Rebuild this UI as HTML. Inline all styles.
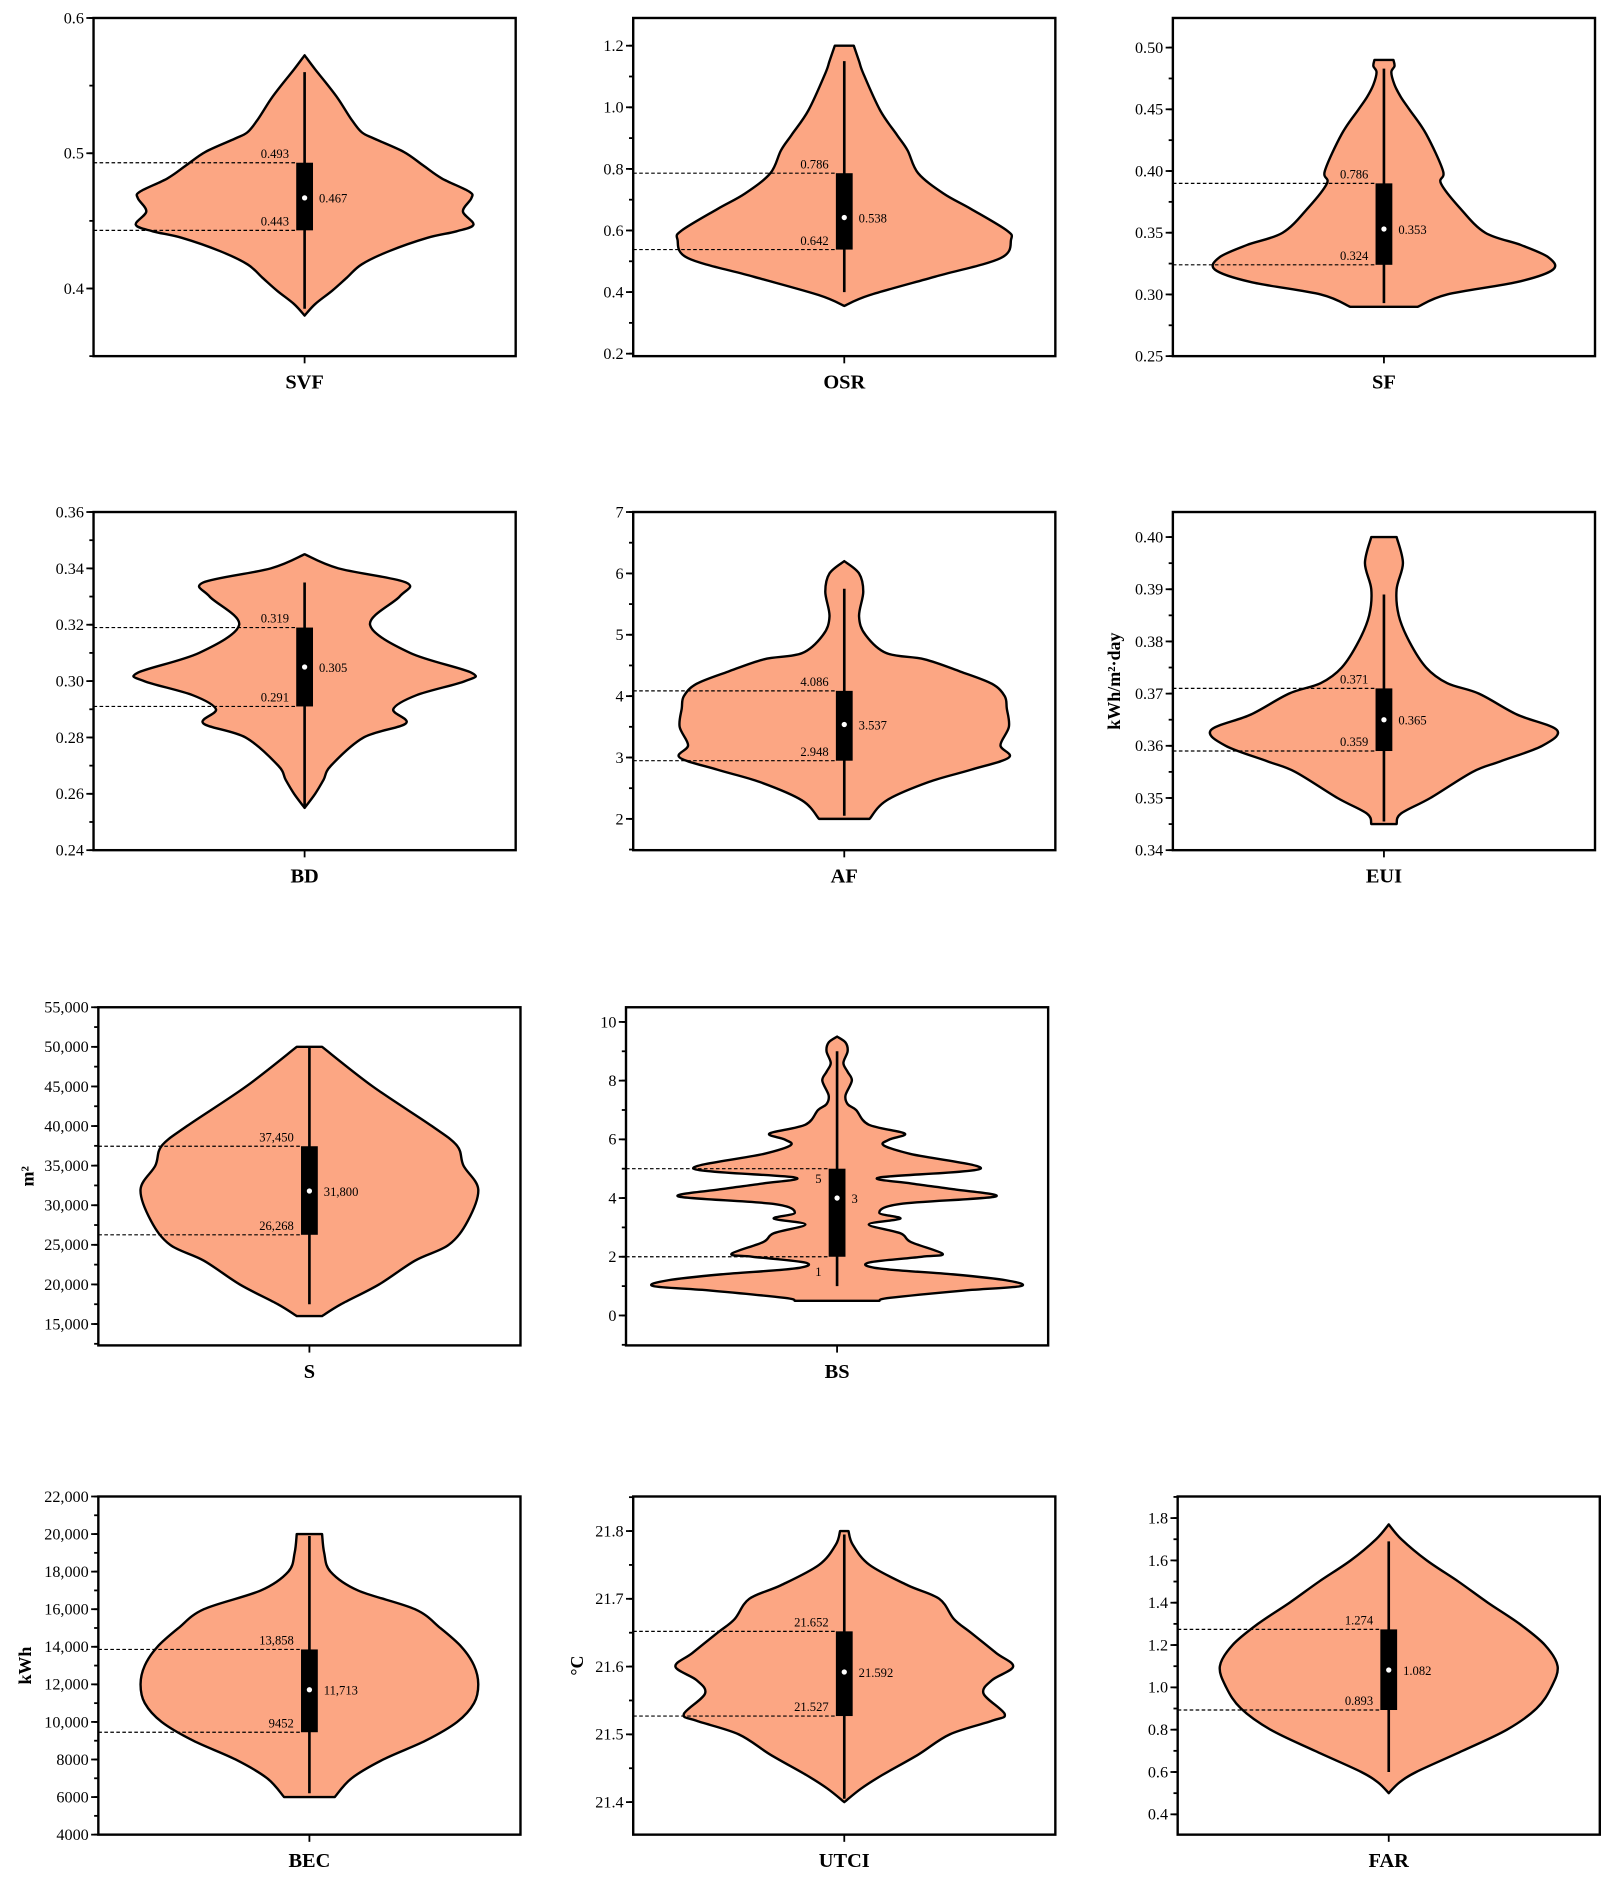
<!DOCTYPE html>
<html><head><meta charset="utf-8"><style>
html,body{margin:0;padding:0;background:#fff}
svg{display:block}
text{font-family:"Liberation Serif",serif;fill:#000}
</style></head><body>
<svg id="chart" xmlns="http://www.w3.org/2000/svg" width="1607" height="1891" viewBox="0 0 1340 1577" preserveAspectRatio="none"></svg>
<script>
// ---- data ----
const categories = ["SVF","OSR","SF","BD","AF","EUI","S","BS","BEC","UTCI","FAR"];
const yAxisTitles = ["","","","","","kWh/m²·day","m²","","kWh","°C",""];
const axisMin = [0.35,0.192,0.25,0.24,1.49,0.34,12300,-1.02,4000,21.352,0.304];
const axisMax = [0.6,1.29,0.524,0.36,7,0.4048,55000,10.5,22000,21.851,1.902];
const majorTicks = [
 [0.4,0.5,0.6],[0.2,0.4,0.6,0.8,1.0,1.2],[0.25,0.30,0.35,0.40,0.45,0.50],
 [0.24,0.26,0.28,0.30,0.32,0.34,0.36],[2,3,4,5,6,7],[0.34,0.35,0.36,0.37,0.38,0.39,0.40],
 [15000,20000,25000,30000,35000,40000,45000,50000,55000],[0,2,4,6,8,10],
 [4000,6000,8000,10000,12000,14000,16000,18000,20000,22000],[21.4,21.5,21.6,21.7,21.8],
 [0.4,0.6,0.8,1.0,1.2,1.4,1.6,1.8]];
const tickLabels = [
 ["0.4","0.5","0.6"],["0.2","0.4","0.6","0.8","1.0","1.2"],["0.25","0.30","0.35","0.40","0.45","0.50"],
 ["0.24","0.26","0.28","0.30","0.32","0.34","0.36"],["2","3","4","5","6","7"],["0.34","0.35","0.36","0.37","0.38","0.39","0.40"],
 ["15,000","20,000","25,000","30,000","35,000","40,000","45,000","50,000","55,000"],["0","2","4","6","8","10"],
 ["4000","6000","8000","10,000","12,000","14,000","16,000","18,000","20,000","22,000"],["21.4","21.5","21.6","21.7","21.8"],
 ["0.4","0.6","0.8","1.0","1.2","1.4","1.6","1.8"]];
const minorStep = [0.05,0.1,0.025,0.01,0.5,0.005,2500,1,1000,0.05,0.1];
// violin outlines: levels (value) and relative half-widths
const svfLevels = [0.5724,0.562,0.5523,0.540,0.5254,0.5156,0.5108,0.501,0.4912,0.4814,0.4716,0.4667,0.457,0.4472,0.4423,0.4374,0.4276,0.4178,0.408,0.3983,0.3885,0.38];
const svfWidths = [0,0.05,0.10,0.16,0.22,0.27,0.33,0.47,0.56,0.65,0.78,0.79,0.75,0.80,0.72,0.58,0.40,0.27,0.2,0.13,0.05,0];
const osrLevels = [1.2,1.15,1.11,0.99,0.91,0.86,0.786,0.72,0.67,0.6,0.57,0.51,0.45,0.39,0.355];
const osrWidths = [0.045,0.07,0.09,0.17,0.25,0.30,0.35,0.47,0.6,0.77,0.79,0.74,0.43,0.12,0];
const sfLevels = [0.49,0.485,0.48,0.47,0.46,0.45,0.43,0.40,0.39,0.37,0.35,0.34,0.33,0.32,0.31,0.30,0.29];
const sfWidths = [0.045,0.05,0.035,0.05,0.08,0.12,0.2,0.28,0.27,0.36,0.48,0.65,0.78,0.8,0.63,0.3,0.16];
const bdLevels = [0.345,0.34,0.335,0.33,0.32,0.31,0.303,0.30,0.295,0.29,0.285,0.28,0.27,0.265,0.26,0.255];
const bdWidths = [0,0.16,0.48,0.45,0.31,0.5,0.79,0.76,0.53,0.42,0.48,0.28,0.125,0.09,0.05,0];
const afLevels = [6.2,6.0,5.7,5.3,5.0,4.7,4.6,4.4,4.2,4.0,3.8,3.5,3.2,3.0,2.8,2.6,2.3,2.0];
const afWidths = [0,0.07,0.09,0.07,0.1,0.2,0.38,0.55,0.7,0.76,0.77,0.78,0.74,0.78,0.6,0.4,0.2,0.12];
const euiLevels = [0.40,0.395,0.39,0.385,0.38,0.375,0.372,0.37,0.366,0.363,0.36,0.357,0.355,0.35,0.347,0.345];
const euiWidths = [0.06,0.09,0.06,0.07,0.12,0.2,0.3,0.45,0.63,0.82,0.75,0.55,0.42,0.22,0.08,0.06];
const sLevels = [50000,45000,40000,37500,35000,32000,28000,25000,23000,20000,17500,16000];
const sWidths = [0.06,0.3,0.58,0.7,0.73,0.8,0.75,0.66,0.5,0.33,0.15,0.06];
const bsLevels = [9.5,9.3,9.0,8.6,8.3,8.0,7.5,7.2,7.0,6.5,6.2,6.0,5.8,5.5,5.0,4.7,4.5,4.3,4.05,3.8,3.5,3.3,3.1,2.8,2.5,2.1,2.0,1.8,1.6,1.4,1.2,1.0,0.85,0.6,0.5];
const bsWidths = [0,0.04,0.05,0.03,0.05,0.07,0.04,0.05,0.09,0.15,0.32,0.25,0.22,0.35,0.68,0.2,0.35,0.55,0.75,0.3,0.2,0.3,0.15,0.3,0.35,0.5,0.4,0.15,0.2,0.55,0.8,0.87,0.6,0.25,0.2];
const becLevels = [20000,19000,18000,17000,16000,15000,14000,13000,12000,11000,10000,9000,8000,7000,6000];
const becWidths = [0.06,0.07,0.1,0.23,0.5,0.62,0.72,0.78,0.8,0.78,0.7,0.55,0.35,0.2,0.12];
const utciLevels = [21.8,21.78,21.75,21.72,21.7,21.67,21.65,21.62,21.6,21.58,21.56,21.53,21.52,21.5,21.47,21.44,21.42,21.40];
const utciWidths = [0.02,0.04,0.12,0.3,0.45,0.52,0.6,0.72,0.8,0.7,0.66,0.76,0.7,0.5,0.35,0.18,0.08,0];
const farLevels = [1.77,1.7,1.6,1.5,1.4,1.3,1.2,1.1,1.0,0.9,0.8,0.7,0.6,0.55,0.5];
const farWidths = [0,0.06,0.18,0.33,0.47,0.62,0.74,0.8,0.77,0.7,0.56,0.35,0.13,0.05,0];
// box stats: [whisker low, q1, median, q3, whisker high]
const boxStats = [
 [0.385,0.443,0.467,0.493,0.56],[0.40,0.538,0.642,0.786,1.15],[0.293,0.324,0.353,0.390,0.483],
 [0.255,0.291,0.305,0.319,0.335],[2.05,2.948,3.537,4.086,5.75],[0.3455,0.359,0.365,0.371,0.389],
 [17500,26268,31800,37450,50000],[1,2,4,5,9],[6200,9452,11713,13858,19900],
 [21.405,21.527,21.592,21.652,21.795],[0.6,0.893,1.082,1.274,1.69]];
// printed labels: [above q3 line, above q1 line, right of median]
const statLabels = [
 ["0.493","0.443","0.467"],["0.786","0.642","0.538"],["0.786","0.324","0.353"],
 ["0.319","0.291","0.305"],["4.086","2.948","3.537"],["0.371","0.359","0.365"],
 ["37,450","26,268","31,800"],["5","1","3"],["13,858","9452","11,713"],
 ["21.652","21.527","21.592"],["1.274","0.893","1.082"]];
const violinLevels = [svfLevels,osrLevels,sfLevels,bdLevels,afLevels,euiLevels,sLevels,bsLevels,becLevels,utciLevels,farLevels];
const violinWidths = [svfWidths,osrWidths,sfWidths,bdWidths,afWidths,euiWidths,sWidths,bsWidths,becWidths,utciWidths,farWidths];

// ---- layout (display coords) ----
const layoutX = [78,528,978,78,528,978,82,522,82,528,982];
const layoutY = [15,15,15,427,427,427,840,840,1248,1248,1248];
const PW = 352, PH = 282;

const NS = "http://www.w3.org/2000/svg";
const svg = document.getElementById('chart');
function mk(tag, attrs, parent){
  const e = document.createElementNS(NS, tag);
  for (const k in attrs) e.setAttribute(k, attrs[k]);
  (parent||svg).appendChild(e); return e;
}
function smoothPath(pts){
  let d = "M"+pts[0][0]+","+pts[0][1];
  for (let i=0;i<pts.length-1;i++){
    const p0=pts[Math.max(0,i-1)], p1=pts[i], p2=pts[i+1], p3=pts[Math.min(pts.length-1,i+2)];
    const c1x=p1[0]+(p2[0]-p0[0])/6, c1y=p1[1]+(p2[1]-p0[1])/6;
    const c2x=p2[0]-(p3[0]-p1[0])/6, c2y=p2[1]-(p3[1]-p1[1])/6;
    d += " C"+c1x.toFixed(2)+","+c1y.toFixed(2)+" "+c2x.toFixed(2)+","+c2y.toFixed(2)+" "+p2[0].toFixed(2)+","+p2[1].toFixed(2);
  }
  return d;
}

categories.forEach((cat, i) => {
  const x0 = layoutX[i], y0 = layoutY[i];
  const g = mk('g', {});
  
  
  const yScale = v => y0 + PH - (v - axisMin[i]) / (axisMax[i] - axisMin[i]) * PH;
  const cx = x0 + PW/2, half = PW/2;

  // violin
  const lv = violinLevels[i], wd = violinWidths[i];
  const left = lv.map((v,k)=>[cx - wd[k]*half, yScale(v)]);
  const right = lv.map((v,k)=>[cx + wd[k]*half, yScale(v)]).reverse();
  let d = smoothPath(left) + " L" + right[0][0].toFixed(2)+","+right[0][1].toFixed(2) + smoothPath(right).replace(/^M[^C]*/, " ") + " Z";
  const vio = mk('path', {d:d, fill:'#FCA683', stroke:'#000', 'stroke-width':2, 'stroke-linejoin':'round'}, g);
  
  

  const st = boxStats[i];
  const bw = 14;
  // dashed lines
  [st[1], st[3]].forEach((v, k) => {
    const ln = mk('line', {x1:x0, x2:cx-bw/2, y1:yScale(v), y2:yScale(v), stroke:'#000', 'stroke-width':1, 'stroke-dasharray':'3,2'}, g);
    
    
  });
  // whisker
  const wh = mk('line', {x1:cx, x2:cx, y1:yScale(st[0]), y2:yScale(st[4]), stroke:'#000', 'stroke-width':2.2}, g);
  
  
  const bx = mk('rect', {x:cx-bw/2, y:yScale(st[3]), width:bw, height:yScale(st[1])-yScale(st[3]), fill:'#000'}, g);
  
  
  const md = mk('circle', {cx:cx, cy:yScale(st[2]), r:2.2, fill:'#fff'}, g);
  
  
  // stat labels
  const lb = statLabels[i];
  const isBS = cat === "BS";
  const t1 = mk('text', {x:cx-bw/2-6, y:yScale(st[3])-(isBS?-12:4), 'font-size':10.5, 'text-anchor':'end'}, g);
  t1.textContent = lb[0];
  
  
  const t2 = mk('text', {x:cx-bw/2-6, y:isBS? yScale(st[1])+16 : yScale(st[1])-4, 'font-size':10.5, 'text-anchor':'end'}, g);
  t2.textContent = lb[1];
  
  
  const t3 = mk('text', {x:cx+bw/2+5, y:yScale(st[2])+4, 'font-size':10.5}, g);
  t3.textContent = lb[2];
  
  

  // frame
  const fr = mk('rect', {x:x0, y:y0, width:PW, height:PH, fill:'none', stroke:'#000', 'stroke-width':2}, g);
  
  
  // minor ticks
  const ms = minorStep[i];
  for (let v = Math.ceil(axisMin[i]/ms - 1e-6)*ms; v <= axisMax[i] + 1e-9; v += ms) {
    const y = yScale(v);
    if (y < y0-0.5 || y > y0+PH+0.5) continue;
    const mt = mk('line', {x1:x0-3.5, x2:x0, y1:y, y2:y, stroke:'#000', 'stroke-width':1.5}, g);
    
    
  }
  majorTicks[i].forEach((v, k) => {
    const y = yScale(v);
    const tk = mk('line', {x1:x0-6, x2:x0, y1:y, y2:y, stroke:'#000', 'stroke-width':1.5}, g);
    
    
    const tl = mk('text', {x:x0-8, y:y+4.5, 'font-size':13.5, 'text-anchor':'end'}, g);
    tl.textContent = tickLabels[i][k];
    
    
  });
  const xt = mk('line', {x1:cx, x2:cx, y1:y0+PH, y2:y0+PH+6, stroke:'#000', 'stroke-width':1.5}, g);
  
  
  const xl = mk('text', {x:cx, y:y0+PH+27, 'font-size':17, 'font-weight':'bold', 'text-anchor':'middle'}, g);
  xl.textContent = cat;
  
  
  if (yAxisTitles[i]) {
    const tx = x0 - (cat==="S" ? 54 : cat==="BEC" ? 56 : cat==="UTCI" ? 42 : 44), ty = y0 + PH/2;
    const yt = mk('text', {x:tx, y:ty, 'font-size':15, 'font-weight':'bold', 'text-anchor':'middle', transform:'rotate(-90 '+tx+' '+ty+')'}, g);
    yt.textContent = yAxisTitles[i];
    
    
  }
});
</script>
</body></html>
